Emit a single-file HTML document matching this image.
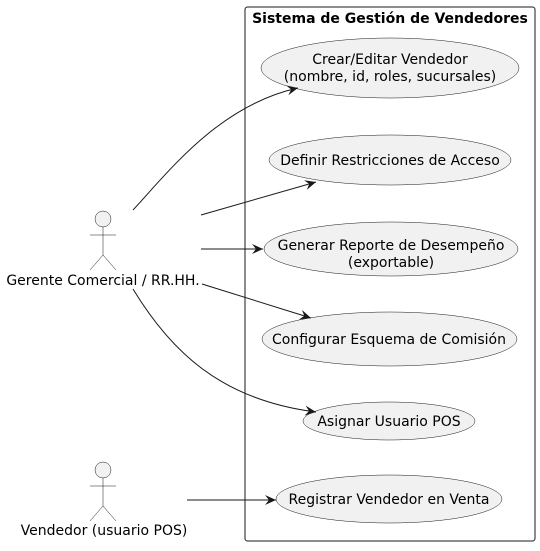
<!DOCTYPE html>
<html><head><style>body{margin:0;background:#fff}</style></head><body>
<svg width="540" height="546" xmlns="http://www.w3.org/2000/svg" font-family="'DejaVu Sans', 'Liberation Sans', sans-serif" font-size="14">
<defs><marker id="a" markerWidth="12" markerHeight="10" refX="11" refY="5" orient="auto" markerUnits="userSpaceOnUse"><path d="M0,0 L11,5 L0,10 L4,5 Z" fill="#181818"/></marker></defs>
<rect x="245" y="7" width="290" height="534" rx="2.5" fill="none" stroke="#181818" stroke-width="1"/>
<text x="390" y="23" text-anchor="middle" font-weight="bold" font-size="14">Sistema de Gestión de Vendedores</text>
<g fill="#f1f1f1" stroke="#181818" stroke-width="0.5">
<ellipse cx="390" cy="68" rx="129" ry="30"/>
<ellipse cx="390" cy="160" rx="121" ry="25"/>
<ellipse cx="391" cy="249" rx="127" ry="27"/>
<ellipse cx="389.5" cy="339" rx="127.5" ry="27"/>
<ellipse cx="389" cy="421" rx="86" ry="19"/>
<ellipse cx="389" cy="499" rx="113" ry="24"/>
</g>
<g text-anchor="middle">
<text x="390" y="64">Crear/Editar Vendedor</text>
<text x="390" y="81">(nombre, id, roles, sucursales)</text>
<text x="390" y="165">Definir Restricciones de Acceso</text>
<text x="391" y="250">Generar Reporte de Desempeño</text>
<text x="391" y="267">(exportable)</text>
<text x="389" y="344">Configurar Esquema de Comisión</text>
<text x="389" y="426">Asignar Usuario POS</text>
<text x="389" y="504">Registrar Vendedor en Venta</text>
</g>
<g fill="#f1f1f1" stroke="#181818" stroke-width="0.5">
<circle cx="103" cy="219" r="8"/>
<path d="M103,227 V255 M90,235 H116 M90,270 L103,255 L116,270" fill="none"/>
<circle cx="103" cy="470" r="8"/>
<path d="M103,478 V506 M90,486 H116 M90,521 L103,506 L116,521" fill="none"/>
</g>
<text x="103" y="285" text-anchor="middle">Gerente Comercial / RR.HH.</text>
<text x="104" y="535" text-anchor="middle">Vendedor (usuario POS)</text>
<g fill="none" stroke="#181818" stroke-width="1" marker-end="url(#a)">
<path d="M133,210 C170,170 220,105 298,88"/>
<path d="M201,215 L316,182"/>
<path d="M201,249 L263,249"/>
<path d="M202,284 L311,318"/>
<path d="M133,289 C170,350 220,400 316,412"/>
<path d="M187,500 L276,500"/>
</g>
</svg>
</body></html>
